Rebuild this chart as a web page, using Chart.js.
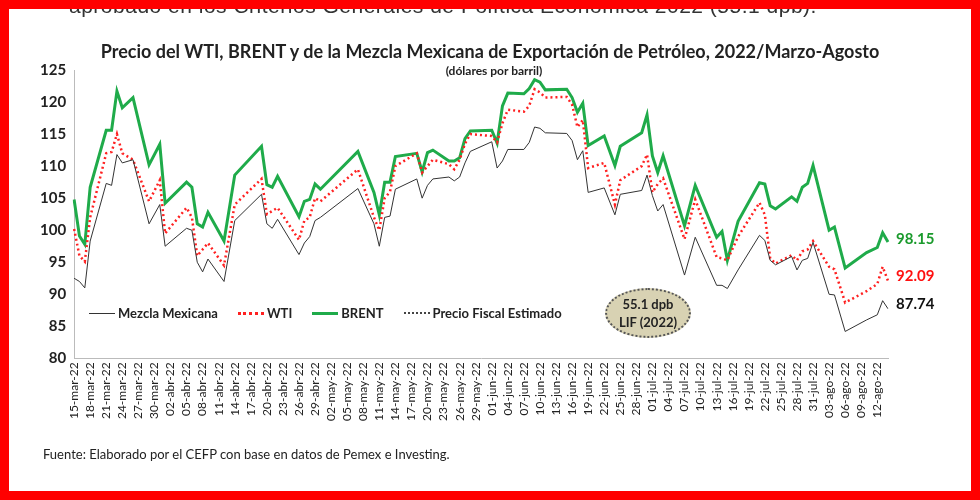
<!DOCTYPE html>
<html><head><meta charset="utf-8">
<script src="https://cdn.jsdelivr.net/npm/chart.js@4"></script>
<style>
html,body{margin:0;padding:0;background:#fff;}
#frame{position:absolute;left:0;top:0;width:980px;height:500px;box-sizing:border-box;border:9px solid #ff0000;overflow:hidden;background:#fff;font-family:"Open Sans","Liberation Sans",sans-serif;}
#cut{position:absolute;left:60px;top:-15px;font-size:21px;color:#333;white-space:nowrap;font-family:"Liberation Sans",Arial,sans-serif;letter-spacing:0.5px}
#title{position:absolute;left:0;width:962px;top:31px;text-align:center;font-weight:bold;font-size:18px;color:#222;font-family:Lato,"Open Sans",sans-serif;}
#sub{position:absolute;left:0;width:962px;top:54px;text-align:center;font-weight:bold;font-size:12px;color:#222;font-family:Lato,sans-serif;padding-left:4px}
#chartbox{position:absolute;left:-9px;top:-9px;width:980px;height:500px;}
#legend{position:absolute;left:80px;top:296px;font-size:13px;font-weight:bold;color:#222;font-family:Lato,sans-serif;display:flex;gap:0;}
#legend span{display:inline-flex;align-items:center;margin-right:20px}
#legend i{display:inline-block;width:26px;margin-right:3px}
#ell{position:absolute;left:596px;top:279px;width:86px;height:50px;border-radius:50%;background:#d8d2b3;border:2px dotted #555;box-sizing:border-box;text-align:center;font-weight:bold;font-size:13px;line-height:18px;padding-top:5px;color:#222;font-family:Lato,sans-serif}
.end{position:absolute;left:887px;font-weight:bold;font-size:15px;font-family:Lato,sans-serif}
#src{position:absolute;left:34px;top:437px;font-size:13px;color:#222;font-family:Lato,sans-serif}
</style></head><body>
<div id="frame">
<div id="chartbox"><canvas id="c" width="980" height="500"></canvas></div>
<div id="cut">aprobado en los Criterios Generales de Política Económica 2022 (55.1 dpb).</div>
<div id="title">Precio del WTI, BRENT y de la Mezcla Mexicana de Exportación de Petróleo, 2022/Marzo-Agosto</div>
<div id="sub">(dólares por barril)</div>
<div id="legend">
<span><i style="border-top:1px solid #333"></i>Mezcla Mexicana</span>
<span><i style="border-top:3px dotted #ff2020"></i>WTI</span>
<span><i style="border-top:3px solid #1fab4a"></i>BRENT</span>
<span><i style="border-top:2px dotted #444"></i>Precio Fiscal Estimado</span>
</div>
<div id="ell">55.1 dpb<br>LIF (2022)</div>
<div class="end" style="top:220px;color:#1a9a2c">98.15</div>
<div class="end" style="top:257px;color:#ff1010">92.09</div>
<div class="end" style="top:285px;color:#111">87.74</div>
<div id="src">Fuente: Elaborado por el CEFP con base en datos de Pemex e Investing.</div>
</div>
<script>
const months = ["mar","abr","may","jun","jul","ago"];
const monthLen = [31,30,31,30,31,31];
// calendar days 15-mar-22 .. 14-ago-22
const dateLabels = [];
(function(){let m=0,d=15;for(let i=0;i<=152;i++){dateLabels.push(String(d).padStart(2,'0')+'-'+months[m]+'-22');d++;if(d>monthLen[m]){d=1;m++;}}})();

const dayIdx = [0,1,2,3,6,7,8,9,11,14,16,17,21,22,23,24,25,28,30,35,36,37,38,42,43,44,45,46,53,56,57,58,59,60,64,65,66,67,70,71,72,73,74,78,79,80,81,84,85,86,87,88,92,93,94,95,96,99,101,102,106,107,108,109,110,114,116,120,121,122,124,128,129,130,131,134,135,136,137,138,141,142,144,148,150,151,152];
const brent = [104.8,99.1,97.8,106.7,115.6,115.6,121.7,119.1,120.7,110.2,113.4,104.2,107.5,106.7,101.0,100.5,102.8,98.3,108.6,113.1,107.1,106.7,108.4,102.1,104.5,104.8,107.2,106.4,112.3,105.9,102.4,107.5,107.5,111.5,112.0,109.1,112.1,112.5,110.8,110.8,111.3,114.3,115.5,115.6,113.6,119.4,121.4,121.3,122.1,123.5,123.1,121.9,122.0,120.7,118.4,119.8,113.2,114.7,110.1,113.1,115.2,118.0,111.6,109.0,111.6,100.7,107.0,98.9,99.8,95.3,101.4,107.4,107.2,103.8,103.3,105.2,104.5,106.7,107.3,110.1,100.0,100.5,94.1,96.5,97.3,99.6,98.15];
const wti = [100.2,96.0,95.1,102.0,112.0,112.2,115.0,112.0,111.0,104.5,107.8,99.5,103.5,102.0,96.0,97.0,98.0,94.5,104.0,108.0,102.5,103.0,103.5,98.5,101.5,102.0,105.0,104.5,109.5,102.0,100.0,105.0,106.0,110.0,112.0,109.0,110.0,111.0,110.3,109.5,111.0,113.5,115.0,114.7,113.7,116.7,118.8,118.5,119.4,122.0,121.5,120.7,120.8,119.6,116.1,117.2,109.7,110.5,104.0,107.8,110.0,111.8,105.9,107.2,108.1,98.6,104.8,95.8,95.6,95.3,99.0,104.3,102.4,95.6,94.8,96.1,95.3,96.7,97.0,98.3,94.3,93.9,88.7,90.5,91.6,94.3,92.09];
const mezcla = [92.5,92.0,91.0,98.3,107.3,107.0,111.8,110.5,111.0,101.0,104.0,97.5,100.3,100.0,95.0,93.5,95.5,92.0,101.5,105.6,101.0,100.3,101.7,96.2,98.0,99.0,101.5,102.0,106.5,101.0,97.5,102.0,102.2,106.4,108.0,105.0,107.0,108.0,108.3,107.7,108.3,110.5,112.3,113.8,109.7,110.8,112.6,112.6,113.7,116.1,115.9,115.2,115.1,114.0,111.0,112.4,105.9,106.6,102.4,105.6,106.2,108.6,105.4,103.0,104.0,93.0,98.9,91.4,91.4,90.9,93.8,99.2,98.4,95.3,94.6,95.9,93.8,95.3,95.6,98.1,90.0,89.9,84.2,86.0,86.8,89.0,87.74];
const precioFiscal = 55.1;
const yTicks = [80,85,90,95,100,105,110,115,120,125];

const pts = arr => dayIdx.map((d,i)=>({x:dateLabels[d],y:arr[i]}));
new Chart(document.getElementById('c'),{
 type:'line',
 data:{labels:dateLabels,datasets:[
  {label:'Mezcla Mexicana',data:pts(mezcla),borderColor:'#333',borderWidth:1,pointRadius:0,tension:0},
  {label:'WTI',data:pts(wti),borderColor:'#ff2020',borderWidth:2.5,borderDash:[2,3],pointRadius:0,tension:0},
  {label:'BRENT',data:pts(brent),borderColor:'#1fab4a',borderWidth:3,pointRadius:0,tension:0},
  {label:'Precio Fiscal Estimado',data:dateLabels.map(l=>({x:l,y:precioFiscal})),borderColor:'#444',borderWidth:1.5,borderDash:[2,2],pointRadius:0}
 ]},
 options:{responsive:false,animation:false,
  layout:{padding:{top:70,left:32,right:92,bottom:75}},
  plugins:{legend:{display:false},tooltip:{enabled:false}},
  scales:{
   x:{grid:{display:false,drawTicks:false},border:{color:'#bbb'},
      ticks:{autoSkip:false,maxRotation:90,minRotation:90,padding:4,color:'#222',font:{family:'Lato',size:12},
        callback:(v,i)=> i%3===0 ? dateLabels[i] : ''}},
   y:{min:80,max:125,afterBuildTicks:a=>{a.ticks=yTicks.map(v=>({value:v}));},grid:{display:false,drawTicks:false},border:{color:'#bbb'},
      ticks:{padding:8,color:'#222',font:{family:'Lato',size:15,weight:'bold'}}}
  }}
});
</script>
</body></html>
